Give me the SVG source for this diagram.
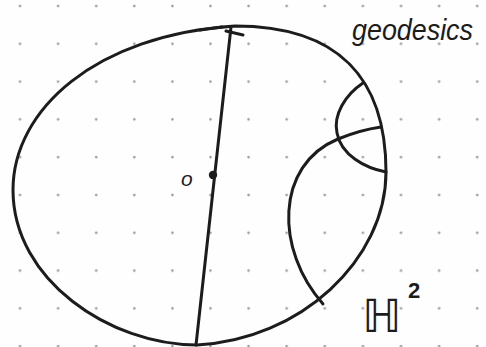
<svg xmlns="http://www.w3.org/2000/svg" width="486" height="347" viewBox="0 0 486 347">
  <style>
    .ink { fill: none; stroke: #1c1c1c; stroke-width: 3; stroke-linecap: round; stroke-linejoin: round; }
    .lbl { fill: #1c1c1c; }
  </style>
  <defs>
    <pattern id="dots" patternUnits="userSpaceOnUse" x="1" y="-13" width="38.1" height="37.8">
      <circle cx="19" cy="19" r="1.3" fill="#9a9a9a"/>
    </pattern>
  </defs>
  <rect width="486" height="347" fill="#fefefe"/>
  <rect width="486" height="347" fill="url(#dots)"/>

  <g id="disk">
    <path class="ink" d="M 13 190 C 13 110, 95 35, 235 26 C 340 26, 386 80, 386 172 C 386 260, 300 340, 197 345 C 110 345, 13 280, 13 190 Z"/>
  </g>

  <g id="geodesics">
    <path class="ink" d="M 231 27 L 196 345"/>
    <path class="ink" d="M 200 30 L 222 27" stroke-width="4"/>
    <path class="ink" d="M 226 31 L 243 35"/>
    <path class="ink" d="M 323 304 C 275 250, 275 165, 338 139 Q 360 130, 381 127"/>
    <path class="ink" d="M 363 83 C 345 95, 333 115, 337 133 C 341 155, 365 168, 386 172"/>
  </g>

  <g id="origin">
    <circle cx="213" cy="175" r="4.2" fill="#1c1c1c"/>
    <text class="lbl" x="181" y="186" font-family="Liberation Sans, sans-serif" font-style="italic" font-size="21">o</text>
  </g>

  <g id="label-geodesics">
    <text class="lbl" x="352" y="40" font-family="Liberation Sans, sans-serif" font-style="italic" font-size="29" textLength="121" lengthAdjust="spacingAndGlyphs">geodesics</text>
  </g>

  <g id="label-H2">
    <text class="lbl" x="362" y="332" font-family="DejaVu Sans, sans-serif" font-size="46">ℍ</text>
    <text class="lbl" x="408" y="298" font-family="Liberation Sans, sans-serif" font-size="22" font-weight="bold">2</text>
  </g>
</svg>
